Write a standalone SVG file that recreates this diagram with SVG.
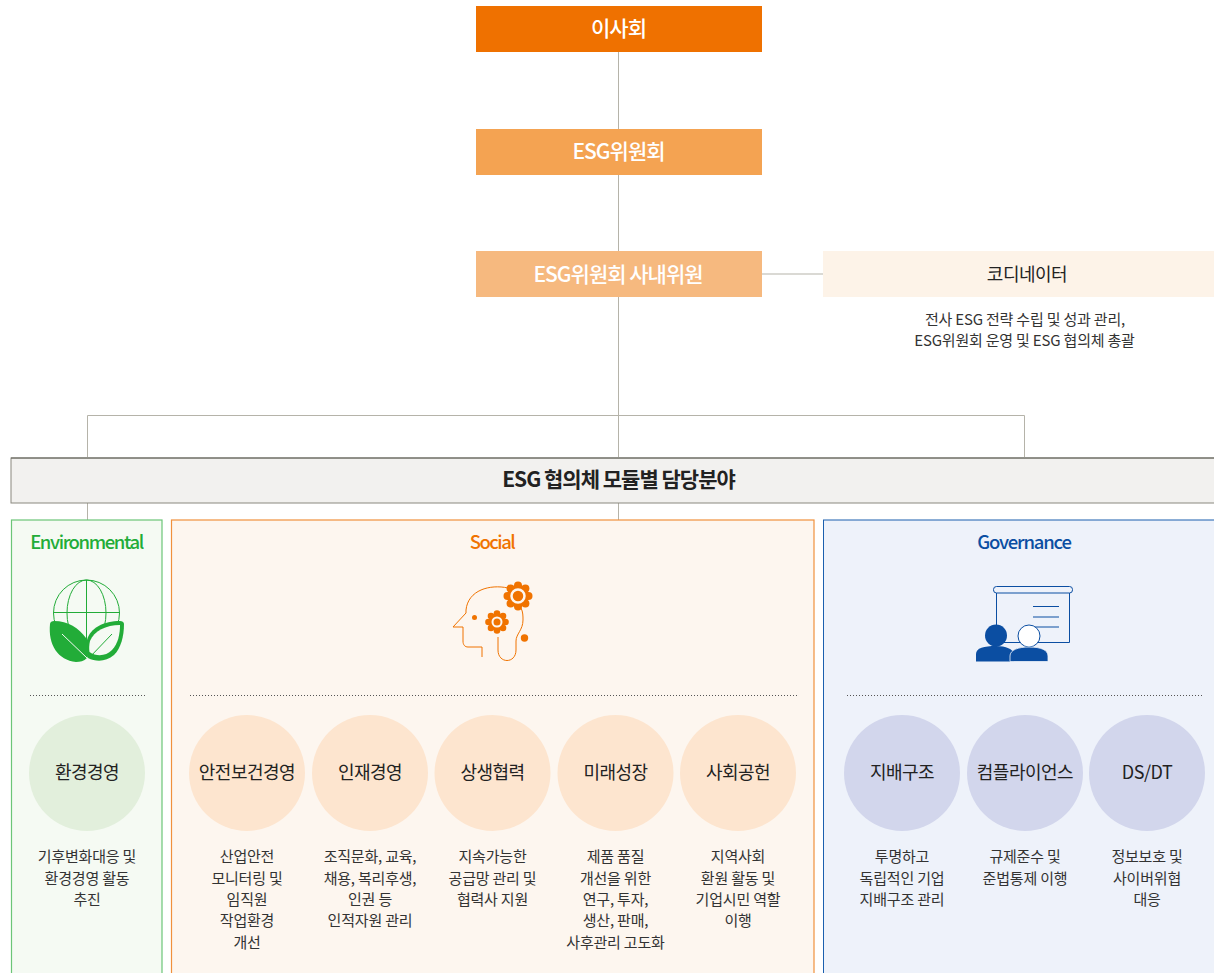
<svg xmlns="http://www.w3.org/2000/svg" width="1214" height="973" viewBox="0 0 1214 973">
<style>
text{font-family:"Noto Sans CJK KR","Noto Sans",sans-serif;text-anchor:middle;fill:#222;letter-spacing:-.5px}
.h{font-size:21px;font-weight:500;fill:#fff;letter-spacing:-1px}
.c{font-size:18px;letter-spacing:-.5px}
.d{font-size:15px;fill:#333;letter-spacing:-.2px}
.t{font-size:18.500px;font-weight:500;letter-spacing:-1.200px}
.con{fill:none;stroke:#b5b3a9;stroke-width:1}
.dot{fill:none;stroke:#555;stroke-width:1;stroke-dasharray:1 2}
</style>
<rect width="1214" height="973" fill="#fff"/>
<g id="connectors" class="con">
<path d="M618.500 52V457M762 274H823M87.500 457V415.500H1024.500V457M87.500 503V520M618.500 503V520"/>
</g>
<g id="board"><rect x="476" y="6" width="286" height="46" fill="#ef7100"/><text class="h" x="618.500" y="36">이사회</text></g>
<g id="esg-committee"><rect x="476" y="129" width="286" height="46" fill="#f4a352"/><text class="h" x="618.500" y="159">ESG위원회</text></g>
<g id="esg-internal"><rect x="476" y="251" width="286" height="46" fill="#f6b97f"/><text class="h" x="618" y="282">ESG위원회 사내위원</text></g>
<g id="coordinator"><rect x="823" y="251" width="391" height="46" fill="#fdf3e8"/><text x="1027" y="281" style="font-size:18px;letter-spacing:-.5px">코디네이터</text>
<text class="d" x="1025" y="325">전사 ESG 전략 수립 및 성과 관리,</text><text class="d" x="1024.500" y="346">ESG위원회 운영 및 ESG 협의체 총괄</text></g>
<g id="module-bar"><rect x="11" y="458" width="1204" height="45" fill="#f2f1ef" stroke="#8a887f"/><path d="M11 458H1214" stroke="#5f5e56" fill="none"/><text x="618.500" y="487" style="font-size:21px;font-weight:700;letter-spacing:-1px">ESG 협의체 모듈별 담당분야</text></g>

<g id="environmental">
<rect x="11.500" y="520" width="150.500" height="460" fill="#f5faf3" stroke="#6cc577" stroke-width="1.200"/>
<text class="t" x="86.500" y="549" style="fill:#22ac38;letter-spacing:-1.400px">Environmental</text>
<g fill="none" stroke="#22ac38" stroke-width="1"><circle cx="86.500" cy="613" r="33"/><ellipse cx="86.500" cy="613" rx="19.500" ry="33"/><path d="M86.500 580V646M53.500 612.500H119.500"/></g>
<path d="M88 658C96 662 106 662 114 655C121 648 124 636 124 624C124 622 122 621 120 621C104 621 90 628 87 640C86 648 86 654 88 658Z" fill="#22ac38"/>
<path d="M89.500 652C97 657 106 656 112 650C118 644 120 634 120 625C106 625 94 631 90 641C89 645 89 649 89.500 652Z" fill="#f5faf3"/>
<path d="M50 624C50 622 52 621 54 621C68 621 79 628 86 638C89 646 90 654 87 658C84 661 80 662 76 662C58 660 48 645 50 624Z" fill="#22ac38"/>
<path d="M62 634L87 658" stroke="#f5faf3" stroke-width="1" fill="none"/><path d="M89 658L112 634" stroke="#22ac38" stroke-width="1" fill="none"/>
<line class="dot" x1="30" y1="695.500" x2="145" y2="695.500"/>
<circle cx="87" cy="773" r="58" fill="#e2efdc"/><text class="c" x="87" y="779">환경경영</text>
<text class="d"><tspan x="87" y="862">기후변화대응 및</tspan><tspan x="87" y="884">환경경영 활동</tspan><tspan x="87" y="905">추진</tspan></text>
</g>

<g id="social">
<rect x="171.500" y="520" width="642.500" height="460" fill="#fdf6ef" stroke="#f0913c" stroke-width="1.200"/>
<text class="t" x="492" y="549" style="fill:#f07300;letter-spacing:-1.500px">Social</text>
<path d="M508 588C490 584 468 590 466 610V613L453 627H463V641C463 645 465 647 468 647H482V657M498 637V650C498 664 516 664 516 650V641C516 634 523 630 523 620C523 616 523 612 521 608" fill="none" stroke="#f07300" stroke-width="1"/>
<g fill="#f07300"><circle cx="518" cy="596" r="11"/><circle cx="518" cy="585.500" r="4"/><circle cx="518" cy="606.500" r="4"/><circle cx="507.500" cy="596" r="4"/><circle cx="528.500" cy="596" r="4"/><circle cx="510.600" cy="588.600" r="4"/><circle cx="525.400" cy="588.600" r="4"/><circle cx="510.600" cy="603.400" r="4"/><circle cx="525.400" cy="603.400" r="4"/>
<circle cx="497" cy="622" r="8.500"/><circle cx="497" cy="613.500" r="3.300"/><circle cx="497" cy="630.500" r="3.300"/><circle cx="488.500" cy="622" r="3.300"/><circle cx="505.500" cy="622" r="3.300"/><circle cx="491" cy="616" r="3.300"/><circle cx="503" cy="616" r="3.300"/><circle cx="491" cy="628" r="3.300"/><circle cx="503" cy="628" r="3.300"/>
<circle cx="474.500" cy="617.500" r="2.500"/><circle cx="524.500" cy="638" r="3.700"/></g>
<circle cx="518" cy="596" r="6.500" fill="none" stroke="#fdf6ef" stroke-width="2.500"/><circle cx="497" cy="622" r="4.500" fill="none" stroke="#fdf6ef" stroke-width="2"/>
<line class="dot" x1="190" y1="695.500" x2="797" y2="695.500"/>
<circle cx="247" cy="773" r="58" fill="#fde5cf"/><text class="c" x="247" y="779">안전보건경영</text>
<circle cx="370" cy="773" r="58" fill="#fde5cf"/><text class="c" x="370" y="779">인재경영</text>
<circle cx="492.500" cy="773" r="58" fill="#fde5cf"/><text class="c" x="492.500" y="779">상생협력</text>
<circle cx="615.500" cy="773" r="58" fill="#fde5cf"/><text class="c" x="615.500" y="779">미래성장</text>
<circle cx="738" cy="773" r="58" fill="#fde5cf"/><text class="c" x="738" y="779">사회공헌</text>
<text class="d"><tspan x="247" y="862">산업안전</tspan><tspan x="247" y="884">모니터링 및</tspan><tspan x="247" y="905">임직원</tspan><tspan x="247" y="926">작업환경</tspan><tspan x="247" y="948">개선</tspan></text>
<text class="d"><tspan x="370" y="862">조직문화, 교육,</tspan><tspan x="370" y="884">채용, 복리후생,</tspan><tspan x="370" y="905">인권 등</tspan><tspan x="370" y="926">인적자원 관리</tspan></text>
<text class="d"><tspan x="492.500" y="862">지속가능한</tspan><tspan x="492.500" y="884">공급망 관리 및</tspan><tspan x="492.500" y="905">협력사 지원</tspan></text>
<text class="d"><tspan x="615.500" y="862">제품 품질</tspan><tspan x="615.500" y="884">개선을 위한</tspan><tspan x="615.500" y="905">연구, 투자,</tspan><tspan x="615.500" y="926">생산, 판매,</tspan><tspan x="615.500" y="948">사후관리 고도화</tspan></text>
<text class="d"><tspan x="738" y="862">지역사회</tspan><tspan x="738" y="884">환원 활동 및</tspan><tspan x="738" y="905">기업시민 역할</tspan><tspan x="738" y="926">이행</tspan></text>
</g>

<g id="governance">
<rect x="823.500" y="520" width="395" height="460" fill="#eef2fa" stroke="#1b5fae" stroke-width="1"/>
<text class="t" x="1024" y="549" style="fill:#0b4ea2">Governance</text>
<rect x="993.500" y="586.500" width="79" height="6.500" rx="3" fill="none" stroke="#0b4ea2" stroke-width="1"/>
<path d="M996.500 593V642.500H1069.500V593M1033 606.500H1059M1033 617H1059M1033 627H1059" fill="none" stroke="#0b4ea2" stroke-width="1"/>
<circle cx="996" cy="635.500" r="11" fill="#0b4ea2"/><path d="M976 661.500V654C976 648 984 646 996 646C1006 646 1013 649 1014 654V661.500Z" fill="#0b4ea2"/>
<circle cx="1029" cy="636" r="11" fill="#fff" stroke="#0b4ea2" stroke-width="1"/><path d="M1010 661.500V656C1010 650 1018 647 1029 647C1041 647 1048 650 1048 656V661.500Z" fill="#0b4ea2" stroke="#eef2fa" stroke-width=".8"/>
<line class="dot" x1="847" y1="695.500" x2="1204" y2="695.500"/>
<circle cx="902" cy="773" r="58" fill="#d2d6ec"/><text class="c" x="902" y="779">지배구조</text>
<circle cx="1025" cy="773" r="58" fill="#d2d6ec"/><text class="c" x="1025" y="779">컴플라이언스</text>
<circle cx="1147" cy="773" r="58" fill="#d2d6ec"/><text class="c" x="1147" y="779">DS/DT</text>
<text class="d"><tspan x="902" y="862">투명하고</tspan><tspan x="902" y="884">독립적인 기업</tspan><tspan x="902" y="905">지배구조 관리</tspan></text>
<text class="d"><tspan x="1025" y="862">규제준수 및</tspan><tspan x="1025" y="884">준법통제 이행</tspan></text>
<text class="d"><tspan x="1147" y="862">정보보호 및</tspan><tspan x="1147" y="884">사이버위협</tspan><tspan x="1147" y="905">대응</tspan></text>
</g>
</svg>
